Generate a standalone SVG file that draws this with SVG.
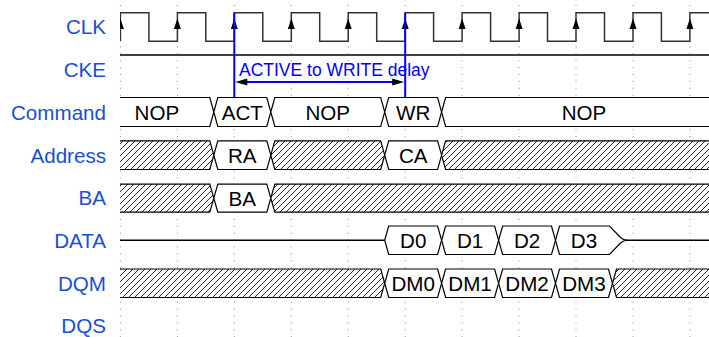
<svg xmlns="http://www.w3.org/2000/svg" width="709" height="337" viewBox="0 0 709 337">
<style>
.lbl{font-family:"Liberation Sans",Arial,sans-serif;font-size:20.6px;fill:#1a4fd3;text-anchor:end}
.txt{font-family:"Liberation Sans",Arial,sans-serif;font-size:20.6px;fill:#000;text-anchor:middle}
.cell{fill:#fff;stroke:#000;stroke-width:1.2}
.hz{fill:url(#hatch);stroke:#000;stroke-width:1.2}
.wire{fill:none;stroke:#000;stroke-width:1.3}
.grid{stroke:#8a8a8a;stroke-width:1;stroke-dasharray:1 5.9}
.ann{stroke:#0000ff;stroke-width:2;fill:none}
</style>
<defs>
<pattern id="hatch" patternUnits="userSpaceOnUse" width="6" height="6">
<rect width="6" height="6" fill="#fff"/>
<path d="M-1.5 1.5 L1.5 -1.5 M0 6 L6 0 M4.5 7.5 L7.5 4.5" stroke="#000" stroke-width="0.85"/>
</pattern>
<path id="up" d="M0 0 L-3.5 10.5 L3.5 10.5 Z" fill="#000"/>
<clipPath id="clip"><rect x="120" y="0" width="600" height="337"/></clipPath>
</defs>
<rect width="709" height="337" fill="#fff"/>
<g id="labels">
<text class="lbl" x="106" y="34">CLK</text>
<text class="lbl" x="106" y="77">CKE</text>
<text class="lbl" x="106" y="120">Command</text>
<text class="lbl" x="106" y="162.5">Address</text>
<text class="lbl" x="106" y="205">BA</text>
<text class="lbl" x="106" y="248">DATA</text>
<text class="lbl" x="106" y="290.5">DQM</text>
<text class="lbl" x="106" y="333">DQS</text>
</g>
<g id="grid" class="grid">
<line x1="120.4" y1="5" x2="120.4" y2="337"/>
<line x1="177.4" y1="5" x2="177.4" y2="337"/>
<line x1="234.3" y1="5" x2="234.3" y2="337"/>
<line x1="291.3" y1="5" x2="291.3" y2="337"/>
<line x1="348.2" y1="5" x2="348.2" y2="337"/>
<line x1="405.2" y1="5" x2="405.2" y2="337"/>
<line x1="462.1" y1="5" x2="462.1" y2="337"/>
<line x1="519.1" y1="5" x2="519.1" y2="337"/>
<line x1="576" y1="5" x2="576" y2="337"/>
<line x1="633" y1="5" x2="633" y2="337"/>
<line x1="689.9" y1="5" x2="689.9" y2="337"/>
</g>
<g clip-path="url(#clip)">
<g id="clk">
<path d="M120.4 41.3 V12.7 H148.9 V41.3 H177.4 V12.7 H205.8 V41.3 H234.3 V12.7 H262.8 V41.3 H291.3 V12.7 H319.7 V41.3 H348.2 V12.7 H376.7 V41.3 H405.2 V12.7 H433.6 V41.3 H462.1 V12.7 H490.6 V41.3 H519.1 V12.7 H547.5 V41.3 H576 V12.7 H604.5 V41.3 H633 V12.7 H661.4 V41.3 H689.9 V12.7 H718.4" fill="none" stroke="#333" stroke-width="1.5"/>
<use href="#up" x="120.4" y="18.5"/>
<use href="#up" x="177.4" y="18.5"/>
<use href="#up" x="234.3" y="18.5"/>
<use href="#up" x="291.3" y="18.5"/>
<use href="#up" x="348.2" y="18.5"/>
<use href="#up" x="405.2" y="18.5"/>
<use href="#up" x="462.1" y="18.5"/>
<use href="#up" x="519.1" y="18.5"/>
<use href="#up" x="576" y="18.5"/>
<use href="#up" x="633" y="18.5"/>
<use href="#up" x="689.9" y="18.5"/>
</g>
<g id="cke">
<path class="wire" d="M120 55 H720"/>
</g>
<g id="command">
<path class="cell" d="M100 112 L104 97.5 H209.8 L213.8 112 L209.8 126.5 H104 Z"/>
<path class="cell" d="M213.8 112 L217.8 97.5 H266.8 L270.8 112 L266.8 126.5 H217.8 Z"/>
<path class="cell" d="M270.8 112 L274.8 97.5 H380.7 L384.7 112 L380.7 126.5 H274.8 Z"/>
<path class="cell" d="M384.7 112 L388.7 97.5 H437.6 L441.6 112 L437.6 126.5 H388.7 Z"/>
<path class="cell" d="M441.6 112 L445.6 97.5 H722.4 L726.4 112 L722.4 126.5 H445.6 Z"/>
<text class="txt" x="156.9" y="120">NOP</text>
<text class="txt" x="242.3" y="120">ACT</text>
<text class="txt" x="327.8" y="120">NOP</text>
<text class="txt" x="413.2" y="120">WR</text>
<text class="txt" x="584" y="120">NOP</text>
</g>
<g id="address">
<path class="hz" d="M100 155.15 L104 140.8 H209.8 L213.8 155.15 L209.8 169.5 H104 Z"/>
<path class="cell" d="M213.8 155.15 L217.8 140.8 H266.8 L270.8 155.15 L266.8 169.5 H217.8 Z"/>
<path class="hz" d="M270.8 155.15 L274.8 140.8 H380.7 L384.7 155.15 L380.7 169.5 H274.8 Z"/>
<path class="cell" d="M384.7 155.15 L388.7 140.8 H437.6 L441.6 155.15 L437.6 169.5 H388.7 Z"/>
<path class="hz" d="M441.6 155.15 L445.6 140.8 H722.4 L726.4 155.15 L722.4 169.5 H445.6 Z"/>
<text class="txt" x="242.3" y="162.5">RA</text>
<text class="txt" x="413.2" y="162.5">CA</text>
</g>
<g id="ba">
<path class="hz" d="M100 198.15 L104 184.1 H209.8 L213.8 198.15 L209.8 212.2 H104 Z"/>
<path class="cell" d="M213.8 198.15 L217.8 184.1 H266.8 L270.8 198.15 L266.8 212.2 H217.8 Z"/>
<path class="hz" d="M270.8 198.15 L274.8 184.1 H756 L760 198.15 L756 212.2 H274.8 Z"/>
<text class="txt" x="242.3" y="205.5">BA</text>
</g>
<g id="data">
<path class="wire" d="M120 240.25 H384.7 M625 240.25 H720"/>
<path class="cell" d="M384.7 240.25 L388.7 226 H437.6 L441.6 240.25 L437.6 254.5 H388.7 Z"/>
<path class="cell" d="M441.6 240.25 L445.6 226 H494.6 L498.6 240.25 L494.6 254.5 H445.6 Z"/>
<path class="cell" d="M498.6 240.25 L502.6 226 H551.5 L555.5 240.25 L551.5 254.5 H502.6 Z"/>
<path class="cell" d="M555.5 240.25 L559.5 226 H609.5 L620.5 237.5 Q623.5 240.25 627 240.25 Q623.5 240.25 620.5 243 L609.5 254.5 H559.5 Z"/>
<text class="txt" x="413.2" y="247.5">D0</text>
<text class="txt" x="470.1" y="247.5">D1</text>
<text class="txt" x="527.1" y="247.5">D2</text>
<text class="txt" x="584" y="247.5">D3</text>
</g>
<g id="dqm">
<path class="hz" d="M100 283.25 L104 269 H380.7 L384.7 283.25 L380.7 297.5 H104 Z"/>
<path class="cell" d="M384.7 283.25 L388.7 269 H437.6 L441.6 283.25 L437.6 297.5 H388.7 Z"/>
<path class="cell" d="M441.6 283.25 L445.6 269 H494.6 L498.6 283.25 L494.6 297.5 H445.6 Z"/>
<path class="cell" d="M498.6 283.25 L502.6 269 H551.5 L555.5 283.25 L551.5 297.5 H502.6 Z"/>
<path class="cell" d="M555.5 283.25 L559.5 269 H608.5 L612.5 283.25 L608.5 297.5 H559.5 Z"/>
<path class="hz" d="M612.5 283.25 L616.5 269 H756 L760 283.25 L756 297.5 H616.5 Z"/>
<text class="txt" x="413.2" y="290.5">DM0</text>
<text class="txt" x="470.1" y="290.5">DM1</text>
<text class="txt" x="527.1" y="290.5">DM2</text>
<text class="txt" x="584" y="290.5">DM3</text>
</g>
<g id="dqs"></g>
</g>
<g id="connectors">
<path class="ann" d="M234.3 12.7 V97.5 M405.2 12.7 V97.5 M240 82 H399.5"/>
<path d="M235.3 82 L247.3 78.5 L247.3 85.5 Z M404.2 82 L392.2 78.5 L392.2 85.5 Z" fill="#000"/>
<text x="239" y="76" font-family="Liberation Sans, Arial, sans-serif" font-size="17.5" fill="#0000ff">ACTIVE to WRITE delay</text>
</g>
</svg>
